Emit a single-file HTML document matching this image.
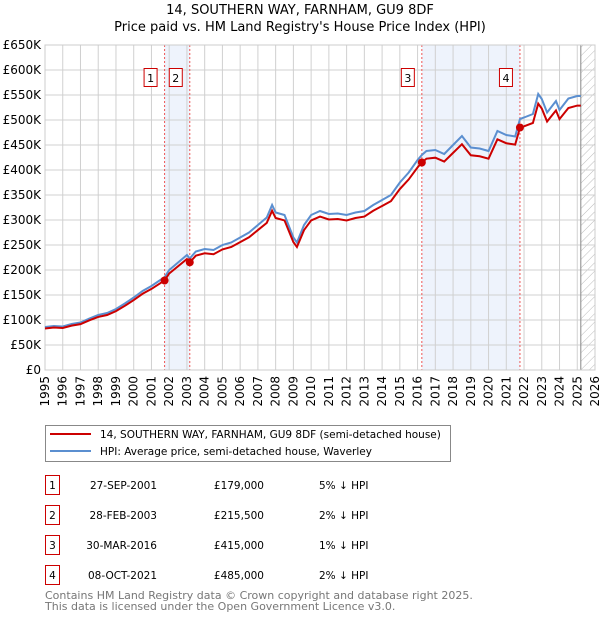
<!DOCTYPE html>
<html><head><meta charset="utf-8"><style>
body{margin:0;background:#fff;font-family:"Liberation Sans","DejaVu Sans",sans-serif;}
svg text{font-family:"DejaVu Sans","Liberation Sans",sans-serif;}
</style></head><body>
<svg id="c" width="600" height="620" xmlns="http://www.w3.org/2000/svg">
<defs><pattern id="hatch" width="6" height="6" patternUnits="userSpaceOnUse" patternTransform="rotate(45)"><line x1="0" y1="0" x2="0" y2="6" stroke="#bbb" stroke-width="1"/></pattern></defs>
<text x="300" y="14" text-anchor="middle" font-size="13">14, SOUTHERN WAY, FARNHAM, GU9 8DF</text>
<text x="300" y="31" text-anchor="middle" font-size="13">Price paid vs. HM Land Registry's House Price Index (HPI)</text>
<g id="plot"></g>
<g>
<rect x="45.5" y="425.5" width="405" height="36" fill="#fff" stroke="#888"/>
<line x1="50" y1="434" x2="91" y2="434" stroke="#cc0000" stroke-width="2"/>
<text x="100" y="438" font-size="10.5">14, SOUTHERN WAY, FARNHAM, GU9 8DF (semi-detached house)</text>
<line x1="50" y1="451" x2="91" y2="451" stroke="#5b8fd0" stroke-width="2"/>
<text x="100" y="455" font-size="10.5">HPI: Average price, semi-detached house, Waverley</text>
</g>
<g id="table" font-size="10.5"></g>
<text x="45" y="599" font-size="11" fill="#777">Contains HM Land Registry data © Crown copyright and database right 2025.</text>
<text x="45" y="610" font-size="11" fill="#777">This data is licensed under the Open Government Licence v3.0.</text>
</svg>
<script>
const hpiYears=[1995,1995.5,1996,1996.5,1997,1997.5,1998,1998.5,1999,1999.5,2000,2000.5,2001,2001.5,2001.74,2002,2002.5,2003,2003.16,2003.5,2004,2004.5,2005,2005.5,2006,2006.5,2007,2007.5,2007.8,2008,2008.5,2009,2009.2,2009.6,2010,2010.5,2011,2011.5,2012,2012.5,2013,2013.5,2014,2014.5,2015,2015.5,2016,2016.24,2016.5,2017,2017.5,2018,2018.5,2019,2019.5,2020,2020.5,2021,2021.5,2021.77,2022,2022.5,2022.8,2023,2023.3,2023.8,2024,2024.5,2025,2025.2];
const hpiValues=[86000,88000,87000,92000,95000,103000,110000,114000,122000,133000,145000,158000,168000,180000,185500,200000,215000,230000,223000,237000,242000,240000,250000,255000,265000,275000,290000,305000,330000,315000,310000,265000,255000,290000,310000,318000,312000,313000,310000,315000,318000,330000,340000,350000,375000,395000,420000,430000,438000,440000,432000,450000,468000,445000,443000,438000,478000,470000,467000,502000,505000,512000,552000,542000,515000,538000,520000,543000,548000,548000];
const salesYears=[2001.74,2003.16,2016.24,2021.77];
const salesPrices=[179000,215500,415000,485000];
const saleDates=["27-SEP-2001","28-FEB-2003","30-MAR-2016","08-OCT-2021"];
const salePrices=["£179,000","£215,500","£415,000","£485,000"];
const saleDiffs=["5% ↓ HPI","2% ↓ HPI","1% ↓ HPI","2% ↓ HPI"];
const yTicks=[0,50000,100000,150000,200000,250000,300000,350000,400000,450000,500000,550000,600000,650000];
const yTickLabels=["£0","£50K","£100K","£150K","£200K","£250K","£300K","£350K","£400K","£450K","£500K","£550K","£600K","£650K"];
const xTicks=[1995,1996,1997,1998,1999,2000,2001,2002,2003,2004,2005,2006,2007,2008,2009,2010,2011,2012,2013,2014,2015,2016,2017,2018,2019,2020,2021,2022,2023,2024,2025,2026];
const redRatio=[0.965];

const X0=45,X1=595,Y0=370,Y1=45;
const x=t=>X0+(t-1995)/(2026-1995)*(X1-X0);
const y=v=>Y0-v/650000*(Y0-Y1);
const NS="http://www.w3.org/2000/svg";
const plot=document.getElementById('plot');
function mk(tag,attrs,parent){const e=document.createElementNS(NS,tag);for(const k in attrs)e.setAttribute(k,attrs[k]);(parent||plot).appendChild(e);return e;}

for(let i=0;i<salesYears.length;i+=2){
  const r=mk('rect',{x:x(salesYears[i]),y:Y1,width:x(salesYears[i+1])-x(salesYears[i]),height:Y0-Y1,fill:'#eef3fc'});
  
  
}
const hEnd=hpiYears[hpiYears.length-1];
const hr=mk('rect',{x:x(hEnd),y:Y1,width:X1-x(hEnd),height:Y0-Y1,fill:'url(#hatch)'});


yTicks.forEach((v,i)=>{
  const l=mk('line',{x1:X0,x2:X1,y1:y(v),y2:y(v),stroke:'#d0d0d0'});
  
  
  const t=mk('text',{x:X0-4,y:y(v)+4,'text-anchor':'end','font-size':'12'});
  t.textContent=yTickLabels[i];
  
  
});
xTicks.forEach(yr=>{
  const l=mk('line',{x1:x(yr),x2:x(yr),y1:Y1,y2:Y0,stroke:'#d0d0d0'});
  
  
  const t=mk('text',{x:0,y:0,'font-size':'12','text-anchor':'end',transform:`translate(${x(yr)+4},${Y0+6}) rotate(-90)`});
  t.textContent=yr;
  
  
});
const vl=mk('line',{x1:x(hEnd),x2:x(hEnd),y1:Y1,y2:Y0,stroke:'#888'});


salesYears.forEach(t=>{
  const l=mk('line',{x1:x(t),x2:x(t),y1:Y1,y2:Y0,stroke:'#e55','stroke-dasharray':'2,2'});
  
  
});
const ax=mk('rect',{x:X0,y:Y1,width:X1-X0,height:Y0-Y1,fill:'none',stroke:'#ccc'});


const hp=mk('polyline',{points:hpiYears.map((t,i)=>x(t)+','+y(hpiValues[i])).join(' '),fill:'none',stroke:'#5b8fd0','stroke-width':2});


const rp=mk('polyline',{points:hpiYears.map((t,i)=>x(t)+','+y(hpiValues[i]*redRatio[0])).join(' '),fill:'none',stroke:'#cc0000','stroke-width':2});


salesYears.forEach((t,i)=>{
  const c=mk('circle',{cx:x(t),cy:y(salesPrices[i]),r:4,fill:'#cc0000'});
  
  
  const bx=x(t)-14;
  const b=mk('rect',{x:bx-6.5,y:68.5,width:13,height:18,fill:'#fff',stroke:'#cc0000'});
  
  
  const tx=mk('text',{x:bx,y:82,'text-anchor':'middle','font-size':'11'});
  tx.textContent=i+1;
  
  
});
const tb=document.getElementById('table');
saleDates.forEach((d,i)=>{
  const cy=483+i*30;
  const r=mk('rect',{x:45.5,y:cy-7.5,width:14,height:19,fill:'#fff',stroke:'#cc0000'},tb);
  
  
  const n=mk('text',{x:52.5,y:cy+6,'text-anchor':'middle'},tb);n.textContent=i+1;
  
  
  const a=mk('text',{x:157,y:cy+6,'text-anchor':'end'},tb);a.textContent=d;
  
  
  const p=mk('text',{x:264,y:cy+6,'text-anchor':'end'},tb);p.textContent=salePrices[i];
  
  
  const h=mk('text',{x:319,y:cy+6},tb);h.textContent=saleDiffs[i];
  
  
});
</script>
</body></html>
